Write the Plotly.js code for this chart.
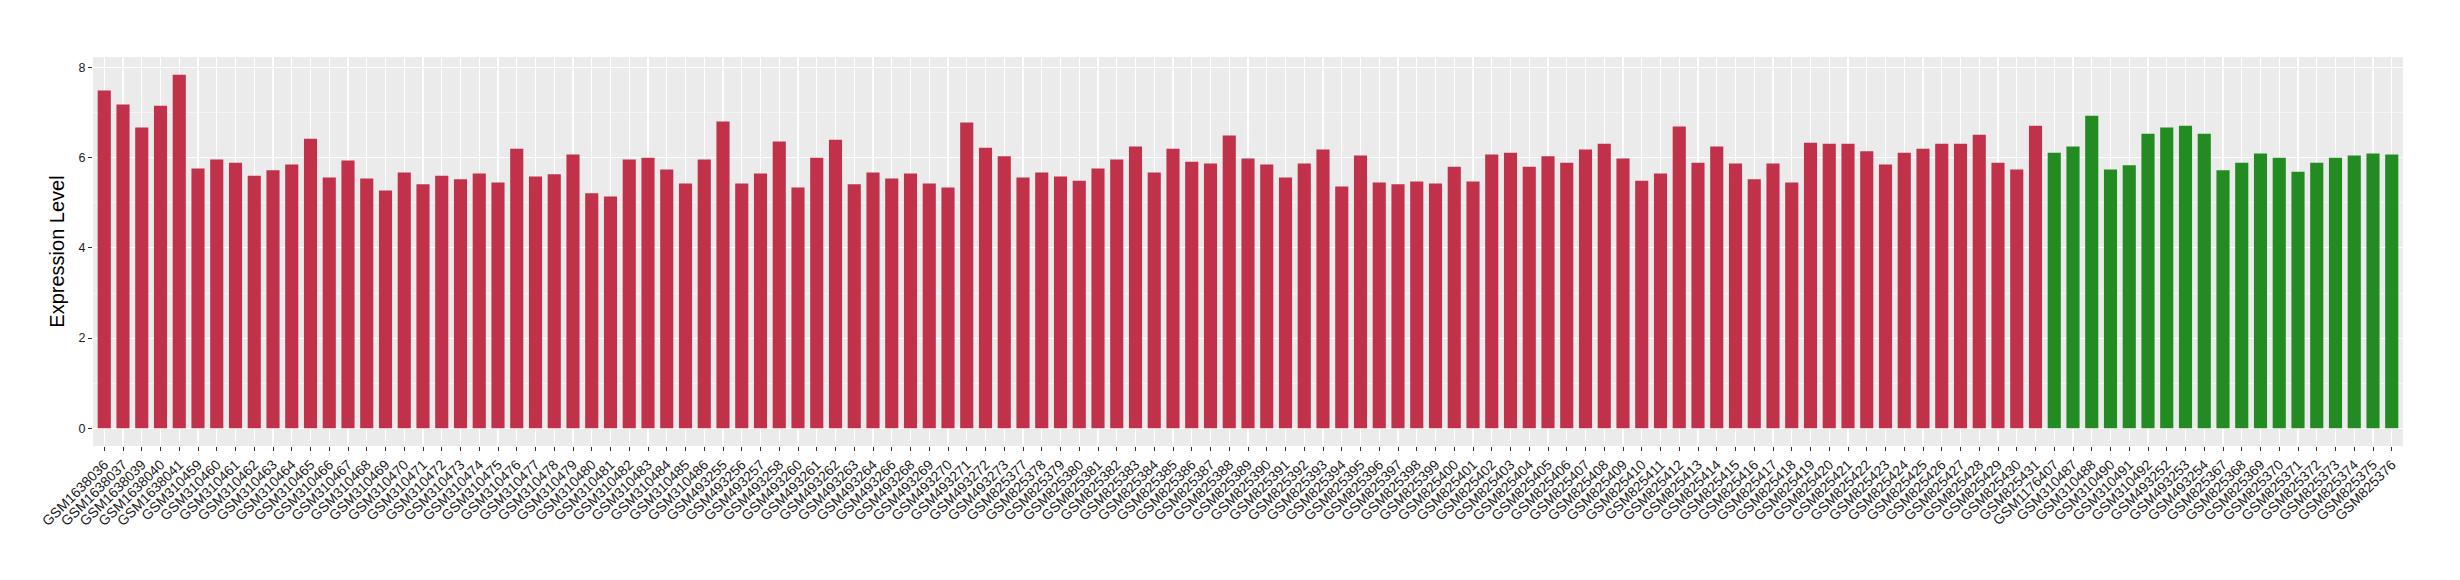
<!DOCTYPE html>
<html>
<head>
<meta charset="utf-8">
<script src="https://cdn.plot.ly/plotly-3.0.1.min.js"></script>
<style>html,body{margin:0;padding:0;background:#fff;}#chart{width:2460px;height:580px;}</style>
</head>
<body>
<div id="chart"></div>
<script>
// Samples shown in red (first group)
const redSamples = [
  "GSM1638036","GSM1638037","GSM1638039","GSM1638040","GSM1638041",
  "GSM310459","GSM310460","GSM310461","GSM310462","GSM310463","GSM310464","GSM310465","GSM310466",
  "GSM310467","GSM310468","GSM310469","GSM310470","GSM310471","GSM310472","GSM310473","GSM310474",
  "GSM310475","GSM310476","GSM310477","GSM310478","GSM310479","GSM310480","GSM310481","GSM310482",
  "GSM310483","GSM310484","GSM310485","GSM310486",
  "GSM493255","GSM493256","GSM493257","GSM493258","GSM493260","GSM493261","GSM493262","GSM493263",
  "GSM493264","GSM493266","GSM493268","GSM493269","GSM493270","GSM493271","GSM493272","GSM493273",
  "GSM825377","GSM825378","GSM825379","GSM825380","GSM825381","GSM825382","GSM825383","GSM825384",
  "GSM825385","GSM825386","GSM825387","GSM825388","GSM825389","GSM825390","GSM825391","GSM825392",
  "GSM825393","GSM825394","GSM825395","GSM825396","GSM825397","GSM825398","GSM825399","GSM825400",
  "GSM825401","GSM825402","GSM825403","GSM825404","GSM825405","GSM825406","GSM825407","GSM825408",
  "GSM825409","GSM825410","GSM825411","GSM825412","GSM825413","GSM825414","GSM825415","GSM825416",
  "GSM825417","GSM825418","GSM825419","GSM825420","GSM825421","GSM825422","GSM825423","GSM825424",
  "GSM825425","GSM825426","GSM825427","GSM825428","GSM825429","GSM825430","GSM825431"
];
const redValues = [
  7.49,7.18,6.67,7.15,7.84,
  5.76,5.96,5.89,5.60,5.72,5.85,6.42,5.56,
  5.94,5.54,5.27,5.67,5.41,5.60,5.52,5.65,
  5.45,6.20,5.58,5.63,6.07,5.21,5.14,5.96,
  6.00,5.74,5.43,5.96,
  6.80,5.43,5.65,6.36,5.34,6.00,6.40,5.41,
  5.67,5.54,5.65,5.43,5.34,6.78,6.22,6.03,
  5.56,5.67,5.58,5.49,5.76,5.96,6.25,5.67,
  6.20,5.91,5.87,6.49,5.98,5.85,5.56,5.87,
  6.18,5.36,6.05,5.45,5.41,5.47,5.43,5.80,
  5.47,6.07,6.11,5.80,6.03,5.89,6.18,6.31,
  5.98,5.49,5.65,6.69,5.89,6.25,5.87,5.52,
  5.87,5.45,6.33,6.31,6.31,6.14,5.85,6.11,
  6.20,6.31,6.31,6.51,5.89,5.74,6.71
];
// Samples shown in green (second group)
const greenSamples = [
  "GSM1176407","GSM310487","GSM310488","GSM310490","GSM310491","GSM310492",
  "GSM493252","GSM493253","GSM493254",
  "GSM825367","GSM825368","GSM825369","GSM825370","GSM825371","GSM825372",
  "GSM825373","GSM825374","GSM825375","GSM825376"
];
const greenValues = [
  6.11,6.25,6.93,5.74,5.83,6.53,
  6.67,6.71,6.53,
  5.72,5.89,6.09,6.00,5.69,5.89,
  6.00,6.05,6.09,6.07
];
const yTickVals = [0,2,4,6,8];
const yTitle = "Expression Level";

const allSamples = redSamples.concat(greenSamples);
const allValues = redValues.concat(greenValues);
const vmax = Math.max.apply(null, allValues);
const pad = 0.05 * vmax;

const FONT = "Liberation Sans, Arial, Helvetica, sans-serif";

const traces = [
  {type:"bar", x:redSamples, y:redValues, marker:{color:"#C2314A", line:{width:0}}, showlegend:false, hoverinfo:"x+y"},
  {type:"bar", x:greenSamples, y:greenValues, marker:{color:"#228B22", line:{width:0}}, showlegend:false, hoverinfo:"x+y"}
];

const layout = {
  width:2460, height:580,
  margin:{l:93, r:57, t:57, b:134, pad:0},
  paper_bgcolor:"#FFFFFF",
  plot_bgcolor:"#EBEBEB",
  barmode:"overlay",
  bargap:0.3,
  font:{family:FONT, color:"#1A1A1A"},
  xaxis:{
    type:"category",
    categoryorder:"array",
    categoryarray:allSamples,
    range:[-0.6, allSamples.length - 0.4],
    tickangle:-45,
    tickfont:{family:FONT, size:14, color:"#1A1A1A"},
    ticks:"outside", ticklen:4, tickwidth:1, tickcolor:"#333333",
    showgrid:true, gridcolor:"#FFFFFF", gridwidth:1.1,
    zeroline:false, showline:false,
    automargin:false
  },
  yaxis:{
    range:[-pad, vmax + pad],
    tickmode:"array", tickvals:yTickVals,
    tickfont:{family:FONT, size:12.5, color:"#1A1A1A"},
    ticks:"outside", ticklen:4, tickwidth:1, tickcolor:"#333333",
    showgrid:true, gridcolor:"#FFFFFF", gridwidth:1.1,
    minor:{dtick:1, tick0:0, showgrid:true, gridcolor:"#FFFFFF", gridwidth:0.5, ticks:""},
    zeroline:false, showline:false,
    automargin:false,
    title:{text:yTitle, font:{family:FONT, size:20, color:"#000000"}, standoff:8}
  }
};

Plotly.newPlot("chart", traces, layout, {displayModeBar:false, staticPlot:true});
</script>
</body>
</html>
